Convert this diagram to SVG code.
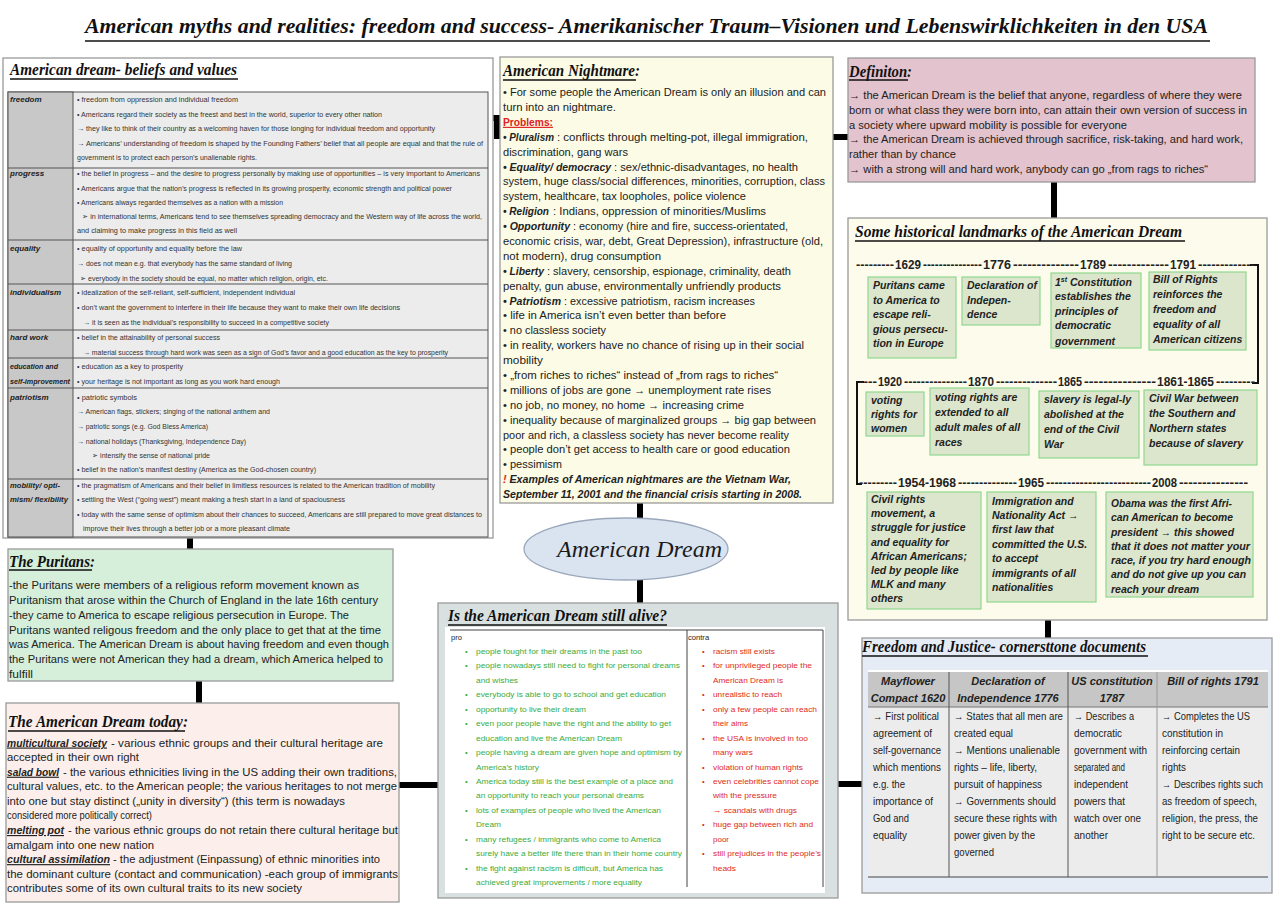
<svg xmlns="http://www.w3.org/2000/svg" width="1280" height="905" viewBox="0 0 1280 905">
<style>
.box{stroke:#9a9a9a;stroke-width:1.3}
.h{font-family:"Liberation Serif",serif;font-weight:bold;font-style:italic;font-size:17px;fill:#111}
.ul{stroke:#111;stroke-width:1.4}
.t{font-family:"Liberation Sans",Arial,sans-serif;font-size:11.5px;fill:#222}
.s{font-family:"Liberation Sans",Arial,sans-serif;font-size:8px;fill:#333}
.lab{font-family:"Liberation Sans",Arial,sans-serif;font-size:8px;font-weight:bold;font-style:italic;fill:#222}
.bi{font-weight:bold;font-style:italic}
.ev{font-family:"Liberation Sans",Arial,sans-serif;font-weight:bold;font-style:italic;font-size:10.5px;fill:#222}
.evb{fill:#dbe6cc;stroke:#8fd88f;stroke-width:1.2}
.yr{font-family:"Liberation Sans",Arial,sans-serif;font-weight:bold;font-size:12.5px;fill:#222}
.pc{font-family:"Liberation Sans",Arial,sans-serif;font-size:7.6px}
.pro{fill:#3aab3a}
.con{fill:#e02a20}
.tb{font-family:"Liberation Sans",Arial,sans-serif;font-size:11px;fill:#222}
.th{font-family:"Liberation Sans",Arial,sans-serif;font-size:11px;font-weight:bold;font-style:italic;fill:#222}
.gl{stroke:#555;stroke-width:1}
.conn{stroke:#000;stroke-width:6;fill:none}
</style>

<g id="title">
<text x="85" y="33" font-family="Liberation Serif, serif" font-weight="bold" font-style="italic" font-size="22" fill="#111" textLength="1123" lengthAdjust="spacingAndGlyphs">American myths and realities: freedom and success- Amerikanischer Traum–Visionen und Lebenswirklichkeiten in den USA</text>
<line x1="85" y1="41" x2="1210" y2="41" stroke="#111" stroke-width="1.6"/>
</g>

<g id="connectors">
<line class="conn" x1="190" y1="537" x2="190" y2="549"/>
<line class="conn" x1="199" y1="681" x2="199" y2="703"/>
<polyline class="conn" points="493,118 497,118 497,136 501,136"/>
<line class="conn" x1="833" y1="137" x2="848" y2="137"/>
<line class="conn" x1="640" y1="503" x2="640" y2="518"/>
<line class="conn" x1="640" y1="580" x2="640" y2="603"/>
<line class="conn" x1="1054" y1="182" x2="1054" y2="218"/>
<line class="conn" x1="1048" y1="620" x2="1048" y2="638"/>
<line class="conn" x1="399" y1="785" x2="438" y2="785"/>
<line class="conn" x1="838" y1="784" x2="862" y2="784"/>
</g>

<g id="beliefs">
<rect class="box" x="3" y="58" width="490" height="480" fill="#ffffff"/>
<text class="h" x="10" y="75" textLength="227" lengthAdjust="spacingAndGlyphs">American dream- beliefs and values</text>
<line class="ul" x1="10" y1="79" x2="238" y2="79"/>
<rect x="8" y="92" width="480" height="445" fill="#ececec" stroke="#555" stroke-width="1"/>
<rect x="8" y="92" width="65" height="445" fill="#c8c8c8" stroke="#555" stroke-width="1"/>
<line class="gl" x1="8" y1="168" x2="488" y2="168"/>
<line class="gl" x1="8" y1="240" x2="488" y2="240"/>
<line class="gl" x1="8" y1="284" x2="488" y2="284"/>
<line class="gl" x1="8" y1="330" x2="488" y2="330"/>
<line class="gl" x1="8" y1="358" x2="488" y2="358"/>
<line class="gl" x1="8" y1="388" x2="488" y2="388"/>
<line class="gl" x1="8" y1="479" x2="488" y2="479"/>
<text class="lab" x="10" y="102">freedom</text>
<text class="lab" x="10" y="176">progress</text>
<text class="lab" x="10" y="251">equality</text>
<text class="lab" x="10" y="295">individualism</text>
<text class="lab" x="10" y="340">hard work</text>
<text class="lab" x="10" y="369" textLength="48" lengthAdjust="spacingAndGlyphs">education and</text>
<text class="lab" x="10" y="384" textLength="60" lengthAdjust="spacingAndGlyphs">self-improvement</text>
<text class="lab" x="10" y="400">patriotism</text>
<text class="lab" x="10" y="488" textLength="50" lengthAdjust="spacingAndGlyphs">mobility/ opti-</text>
<text class="lab" x="10" y="502" textLength="58" lengthAdjust="spacingAndGlyphs">mism/ flexibility</text>
<text class="s" x="77" y="102" textLength="161" lengthAdjust="spacingAndGlyphs">• freedom from oppression and individual freedom</text>
<text class="s" x="77" y="116.5" textLength="305" lengthAdjust="spacingAndGlyphs">• Americans regard their society as the freest and best in the world, superior to every other nation</text>
<text class="s" x="77" y="131" textLength="358" lengthAdjust="spacingAndGlyphs">→ they like to think of their country as a welcoming haven for those longing for individual freedom and opportunity</text>
<text class="s" x="77" y="145.5" textLength="406" lengthAdjust="spacingAndGlyphs">→ Americans’ understanding of freedom is shaped by the Founding Fathers’ belief that all people are equal and that the rule of</text>
<text class="s" x="77" y="160" textLength="180" lengthAdjust="spacingAndGlyphs">government is to protect each person’s unalienable rights.</text>
<text class="s" x="77" y="176" textLength="403" lengthAdjust="spacingAndGlyphs">• the belief in progress – and the desire to progress personally by making use of opportunities – is very important to Americans</text>
<text class="s" x="77" y="191" textLength="375" lengthAdjust="spacingAndGlyphs">• Americans argue that the nation’s progress is reflected in its growing prosperity, economic strength and political power</text>
<text class="s" x="77" y="205" textLength="206" lengthAdjust="spacingAndGlyphs">• Americans always regarded themselves as a nation with a mission</text>
<text class="s" x="82" y="219" textLength="400" lengthAdjust="spacingAndGlyphs">➢ in international terms, Americans tend to see themselves spreading democracy and the Western way of life across the world,</text>
<text class="s" x="77" y="233" textLength="160" lengthAdjust="spacingAndGlyphs">and claiming to make progress in this field as well</text>
<text class="s" x="77" y="251" textLength="165" lengthAdjust="spacingAndGlyphs">• equality of opportunity and equality before the law</text>
<text class="s" x="77" y="266" textLength="215" lengthAdjust="spacingAndGlyphs">→ does not mean e.g. that everybody has the same standard of living</text>
<text class="s" x="80" y="281" textLength="248" lengthAdjust="spacingAndGlyphs">➢ everybody in the society should be equal, no matter which religion, origin, etc.</text>
<text class="s" x="77" y="295" textLength="218" lengthAdjust="spacingAndGlyphs">• idealization of the self-reliant, self-sufficient, independent individual</text>
<text class="s" x="77" y="310" textLength="323" lengthAdjust="spacingAndGlyphs">• don’t want the government to interfere in their life because they want to make their own life decisions</text>
<text class="s" x="83" y="325" textLength="246" lengthAdjust="spacingAndGlyphs">→ it is seen as the individual’s responsibility to succeed in a competitive society</text>
<text class="s" x="77" y="340" textLength="143" lengthAdjust="spacingAndGlyphs">• belief in the attainability of personal success</text>
<text class="s" x="83" y="355" textLength="365" lengthAdjust="spacingAndGlyphs">→ material success through hard work was seen as a sign of God’s favor and a good education as the key to prosperity</text>
<text class="s" x="77" y="369" textLength="106" lengthAdjust="spacingAndGlyphs">• education as a key to prosperity</text>
<text class="s" x="77" y="384" textLength="203" lengthAdjust="spacingAndGlyphs">• your heritage is not important as long as you work hard enough</text>
<text class="s" x="77" y="400" textLength="60" lengthAdjust="spacingAndGlyphs">• patriotic symbols</text>
<text class="s" x="77" y="414" textLength="193" lengthAdjust="spacingAndGlyphs">→ American flags, stickers; singing of the national anthem and</text>
<text class="s" x="77" y="429" textLength="131" lengthAdjust="spacingAndGlyphs">→ patriotic songs (e.g. God Bless America)</text>
<text class="s" x="77" y="444" textLength="169" lengthAdjust="spacingAndGlyphs">→ national holidays (Thanksgiving, Independence Day)</text>
<text class="s" x="92" y="458" textLength="118" lengthAdjust="spacingAndGlyphs">➢  intensify the sense of national pride</text>
<text class="s" x="77" y="472" textLength="239" lengthAdjust="spacingAndGlyphs">• belief in the nation’s manifest destiny (America as the God-chosen country)</text>
<text class="s" x="77" y="488" textLength="358" lengthAdjust="spacingAndGlyphs">• the pragmatism of Americans and their belief in limitless resources is related to the American tradition of mobility</text>
<text class="s" x="77" y="502" textLength="268" lengthAdjust="spacingAndGlyphs">• settling the West (“going west”) meant making a fresh start in a land of spaciousness</text>
<text class="s" x="77" y="517" textLength="405" lengthAdjust="spacingAndGlyphs">• today with the same sense of optimism about their chances to succeed, Americans are still prepared to move great distances to</text>
<text class="s" x="83" y="531" textLength="207" lengthAdjust="spacingAndGlyphs">improve their lives through a better job or a more pleasant climate</text>
</g>

<g id="puritans">
<rect class="box" x="8" y="549" width="385" height="132" fill="#d5efdb"/>
<text class="h" x="9" y="567" textLength="86" lengthAdjust="spacingAndGlyphs">The Puritans:</text>
<line class="ul" x1="9" y1="570" x2="92" y2="570"/>
<text class="t" x="9" y="589" textLength="350" lengthAdjust="spacingAndGlyphs">-the Puritans were members  of a religious reform movement known as</text>
<text class="t" x="9" y="603.8" textLength="369" lengthAdjust="spacingAndGlyphs">Puritanism that arose within the Church of England in the late 16th century</text>
<text class="t" x="9" y="618.7" textLength="340" lengthAdjust="spacingAndGlyphs">-they came to America to escape religious persecution in Europe. The</text>
<text class="t" x="9" y="633.5" textLength="372" lengthAdjust="spacingAndGlyphs">Puritans wanted religous freedom and the only place to get that at the time</text>
<text class="t" x="9" y="648.3" textLength="380" lengthAdjust="spacingAndGlyphs">was America. The American Dream is about having freedom and even though</text>
<text class="t" x="9" y="663.2" textLength="374" lengthAdjust="spacingAndGlyphs">the Puritans were not American they had a dream, which America helped to</text>
<text class="t" x="9" y="678" textLength="24" lengthAdjust="spacingAndGlyphs">fulfill</text>
</g>

<g id="today">
<rect class="box" x="6" y="703" width="393" height="199" fill="#fcefeb"/>
<text class="h" x="8" y="727" textLength="180" lengthAdjust="spacingAndGlyphs">The American Dream today:</text>
<line class="ul" x1="8" y1="731" x2="185" y2="731"/>
<text class="t bi" x="7" y="746.5" textLength="100" lengthAdjust="spacingAndGlyphs" text-decoration="underline">multicultural society</text>
<text class="t" x="111" y="746.5" textLength="272" lengthAdjust="spacingAndGlyphs">- various ethnic groups and their cultural heritage are</text>
<text class="t" x="7" y="761" textLength="132" lengthAdjust="spacingAndGlyphs">accepted in their own right</text>
<text class="t bi" x="7" y="775.7" textLength="52" lengthAdjust="spacingAndGlyphs" text-decoration="underline">salad bowl</text>
<text class="t" x="63" y="775.7" textLength="334" lengthAdjust="spacingAndGlyphs">- the various ethnicities living in the US adding their own traditions,</text>
<text class="t" x="7" y="790.2" textLength="390" lengthAdjust="spacingAndGlyphs">cultural values, etc. to the American people; the various heritages to not merge</text>
<text class="t" x="7" y="804.8" textLength="338" lengthAdjust="spacingAndGlyphs">into one but stay distinct („unity in diversity“) (this term is nowadays</text>
<text class="t" x="7" y="819.4" textLength="145" lengthAdjust="spacingAndGlyphs">considered more politically correct)</text>
<text class="t bi" x="7" y="834" textLength="57" lengthAdjust="spacingAndGlyphs" text-decoration="underline">melting pot</text>
<text class="t" x="68" y="834" textLength="330" lengthAdjust="spacingAndGlyphs">- the various ethnic groups do not retain there cultural heritage but</text>
<text class="t" x="7" y="848.6" textLength="147" lengthAdjust="spacingAndGlyphs">amalgam into one new nation</text>
<text class="t bi" x="7" y="863.1" textLength="103" lengthAdjust="spacingAndGlyphs" text-decoration="underline">cultural assimilation </text>
<text class="t" x="113" y="863.1" textLength="267" lengthAdjust="spacingAndGlyphs">- the adjustment (Einpassung) of ethnic minorities into</text>
<text class="t" x="7" y="877.7" textLength="391" lengthAdjust="spacingAndGlyphs">the dominant culture (contact and communication) -each group of immigrants</text>
<text class="t" x="7" y="892.3" textLength="295" lengthAdjust="spacingAndGlyphs">contributes some of its own cultural traits to its new society</text>
</g>

<g id="nightmare">
<rect class="box" x="500" y="57" width="333" height="446" fill="#fbfbe6"/>
<text class="h" x="503" y="76" textLength="137" lengthAdjust="spacingAndGlyphs">American Nightmare:</text>
<line class="ul" x1="503" y1="80" x2="636" y2="80"/>
<text class="t" x="503" y="96" textLength="323" lengthAdjust="spacingAndGlyphs">• For some people the American Dream is only an illusion and can</text>
<text class="t" x="503" y="110.9" textLength="113" lengthAdjust="spacingAndGlyphs">turn into an nightmare.</text>
<text class="t" x="503" y="125.8" textLength="50" lengthAdjust="spacingAndGlyphs" font-weight="bold" style="fill:#e02020" text-decoration="underline">Problems:</text>
<text class="t bi" x="503" y="140.7" font-size="9.6" textLength="51" lengthAdjust="spacingAndGlyphs">• Pluralism</text>
<text class="t" x="557" y="140.7" textLength="251" lengthAdjust="spacingAndGlyphs">: conflicts through melting-pot, illegal immigration,</text>
<text class="t" x="503" y="155.6" textLength="125" lengthAdjust="spacingAndGlyphs">discrimination, gang wars</text>
<text class="t bi" x="503" y="170.5" textLength="108" lengthAdjust="spacingAndGlyphs">• Equality/ democracy</text>
<text class="t" x="614" y="170.5" textLength="184" lengthAdjust="spacingAndGlyphs">: sex/ethnic-disadvantages, no health</text>
<text class="t" x="503" y="185.3" textLength="322" lengthAdjust="spacingAndGlyphs">system, huge class/social differences, minorities, corruption, class</text>
<text class="t" x="503" y="200.2" textLength="243" lengthAdjust="spacingAndGlyphs">system, healthcare, tax loopholes, police violence</text>
<text class="t bi" x="503" y="215.1" font-size="9.8" textLength="46" lengthAdjust="spacingAndGlyphs">• Religion</text>
<text class="t" x="553" y="215.1" textLength="213" lengthAdjust="spacingAndGlyphs">: Indians, oppression of minorities/Muslims</text>
<text class="t bi" x="503" y="230" textLength="67" lengthAdjust="spacingAndGlyphs">• Opportunity</text>
<text class="t" x="573" y="230" textLength="215" lengthAdjust="spacingAndGlyphs">: economy (hire and fire, success-orientated,</text>
<text class="t" x="503" y="244.9" textLength="320" lengthAdjust="spacingAndGlyphs">economic crisis, war, debt, Great Depression), infrastructure (old,</text>
<text class="t" x="503" y="259.8" textLength="158" lengthAdjust="spacingAndGlyphs">not modern), drug consumption</text>
<text class="t bi" x="503" y="274.7" textLength="41" lengthAdjust="spacingAndGlyphs">• Liberty</text>
<text class="t" x="547" y="274.7" textLength="244" lengthAdjust="spacingAndGlyphs">: slavery, censorship, espionage, criminality, death</text>
<text class="t" x="503" y="289.6" textLength="278" lengthAdjust="spacingAndGlyphs">penalty, gun abuse, environmentally unfriendly products</text>
<text class="t bi" x="503" y="304.5" textLength="58" lengthAdjust="spacingAndGlyphs">• Patriotism</text>
<text class="t" x="564" y="304.5" textLength="191" lengthAdjust="spacingAndGlyphs">: excessive patriotism, racism increases</text>
<text class="t" x="503" y="319.4" textLength="223" lengthAdjust="spacingAndGlyphs">• life in America isn’t even better than before</text>
<text class="t" x="503" y="334.2" textLength="103" lengthAdjust="spacingAndGlyphs">• no classless society</text>
<text class="t" x="503" y="349.1" textLength="301" lengthAdjust="spacingAndGlyphs">• in reality, workers have no chance of rising up in their social</text>
<text class="t" x="503" y="364" textLength="40" lengthAdjust="spacingAndGlyphs">mobility</text>
<text class="t" x="503" y="378.9" textLength="275" lengthAdjust="spacingAndGlyphs">• „from riches to riches“ instead of „from rags to riches“</text>
<text class="t" x="503" y="393.8" textLength="268" lengthAdjust="spacingAndGlyphs">• millions of jobs are gone → unemployment rate rises</text>
<text class="t" x="503" y="408.7" textLength="241" lengthAdjust="spacingAndGlyphs">• no job, no money, no home → increasing crime</text>
<text class="t" x="503" y="423.6" textLength="313" lengthAdjust="spacingAndGlyphs">• inequality because of marginalized groups → big gap between</text>
<text class="t" x="503" y="438.5" textLength="286" lengthAdjust="spacingAndGlyphs">poor and rich, a classless society has never become reality</text>
<text class="t" x="503" y="453.4" textLength="287" lengthAdjust="spacingAndGlyphs">• people don’t get access to health care or good education</text>
<text class="t" x="503" y="468.3" textLength="59" lengthAdjust="spacingAndGlyphs">• pessimism</text>
<text class="t bi" x="503" y="483.1" textLength="288" lengthAdjust="spacingAndGlyphs"><tspan style="fill:#e02020">!</tspan> Examples of American nightmares are the Vietnam War,</text>
<text class="t bi" x="503" y="498" textLength="299" lengthAdjust="spacingAndGlyphs">September 11, 2001 and the financial crisis starting in 2008.</text>
</g>

<g id="definition">
<rect class="box" x="848" y="58" width="407" height="124" fill="#e3c3cd"/>
<text class="h" x="849" y="77" textLength="63" lengthAdjust="spacingAndGlyphs">Definiton:</text>
<line class="ul" x1="849" y1="80" x2="908" y2="80"/>
<text class="t" x="849" y="99" textLength="393" lengthAdjust="spacingAndGlyphs">→ the American Dream is the belief that anyone, regardless of where they were</text>
<text class="t" x="849" y="113.8" textLength="398" lengthAdjust="spacingAndGlyphs">born or what class they were born into, can attain their own version of success in</text>
<text class="t" x="849" y="128.6" textLength="278" lengthAdjust="spacingAndGlyphs">a society where upward mobility is possible for everyone</text>
<text class="t" x="849" y="143.4" textLength="394" lengthAdjust="spacingAndGlyphs">→ the American Dream is achieved through sacrifice, risk-taking, and hard work,</text>
<text class="t" x="849" y="158.2" textLength="107" lengthAdjust="spacingAndGlyphs">rather than by chance</text>
<text class="t" x="849" y="173" textLength="359" lengthAdjust="spacingAndGlyphs">→ with a strong will and hard work, anybody can go „from rags to riches“</text>
</g>

<g id="landmarks">
<rect class="box" x="848" y="218" width="419" height="402" fill="#fdfbeb"/>
<text class="h" x="855" y="237" textLength="327" lengthAdjust="spacingAndGlyphs">Some historical landmarks of the American Dream</text>
<line class="ul" x1="855" y1="241" x2="1185" y2="241"/>
<polyline points="1250,265 1258,265 1258,383 1252,383" fill="none" stroke="#111" stroke-width="2"/>
<polyline points="864,382 857,382 857,484 862,484" fill="none" stroke="#111" stroke-width="2"/>
<g class="yr">
<text x="856" y="269" textLength="38" lengthAdjust="spacingAndGlyphs">---------</text>
<text x="895" y="269" textLength="26" lengthAdjust="spacingAndGlyphs">1629</text>
<text x="923" y="269" textLength="59" lengthAdjust="spacingAndGlyphs">---------------</text>
<text x="983" y="269" textLength="28" lengthAdjust="spacingAndGlyphs">1776</text>
<text x="1013" y="269" textLength="66" lengthAdjust="spacingAndGlyphs">--------------</text>
<text x="1080" y="269" textLength="26" lengthAdjust="spacingAndGlyphs">1789</text>
<text x="1108" y="269" textLength="61" lengthAdjust="spacingAndGlyphs">-------------</text>
<text x="1170" y="269" textLength="26" lengthAdjust="spacingAndGlyphs">1791</text>
<text x="1198" y="269" textLength="57" lengthAdjust="spacingAndGlyphs">-------------</text>
<text x="859" y="386" textLength="18" lengthAdjust="spacingAndGlyphs">----</text>
<text x="878" y="386" textLength="24" lengthAdjust="spacingAndGlyphs">1920</text>
<text x="904" y="386" textLength="63" lengthAdjust="spacingAndGlyphs">---------------</text>
<text x="968" y="386" textLength="26" lengthAdjust="spacingAndGlyphs">1870</text>
<text x="996" y="386" textLength="61" lengthAdjust="spacingAndGlyphs">--------------</text>
<text x="1058" y="386" textLength="24" lengthAdjust="spacingAndGlyphs">1865</text>
<text x="1084" y="386" textLength="72" lengthAdjust="spacingAndGlyphs">---------------</text>
<text x="1157" y="386" textLength="57" lengthAdjust="spacingAndGlyphs">1861-1865</text>
<text x="1216" y="386" textLength="39" lengthAdjust="spacingAndGlyphs">---------</text>
<text x="859" y="487" textLength="38" lengthAdjust="spacingAndGlyphs">---------</text>
<text x="898" y="487" textLength="58" lengthAdjust="spacingAndGlyphs">1954-1968</text>
<text x="958" y="487" textLength="59" lengthAdjust="spacingAndGlyphs">--------------</text>
<text x="1018" y="487" textLength="26" lengthAdjust="spacingAndGlyphs">1965</text>
<text x="1046" y="487" textLength="105" lengthAdjust="spacingAndGlyphs">-------------------------</text>
<text x="1152" y="487" textLength="25" lengthAdjust="spacingAndGlyphs">2008</text>
<text x="1179" y="487" textLength="69" lengthAdjust="spacingAndGlyphs">---------------</text>
</g>
<g id="ev1629"><rect class="evb" x="868" y="277" width="88" height="81"/>
<text class="ev" x="873" y="289">Puritans came</text><text class="ev" x="873" y="304">to America to</text><text class="ev" x="873" y="318">escape reli-</text><text class="ev" x="873" y="333">gious persecu-</text><text class="ev" x="873" y="347">tion in Europe</text></g>
<g id="ev1776"><rect class="evb" x="962" y="277" width="78" height="48"/>
<text class="ev" x="967" y="289">Declaration of</text><text class="ev" x="967" y="304">Indepen-</text><text class="ev" x="967" y="318">dence</text></g>
<g id="ev1789"><rect class="evb" x="1051" y="273" width="90" height="75"/>
<text class="ev" x="1055" y="286">1<tspan font-size="7" dy="-4">st</tspan><tspan dy="4"> Constitution</tspan></text><text class="ev" x="1055" y="300">establishes the</text><text class="ev" x="1055" y="315">principles of</text><text class="ev" x="1055" y="329">democratic</text><text class="ev" x="1055" y="345">government</text></g>
<g id="ev1791"><rect class="evb" x="1149" y="272" width="97" height="78"/>
<text class="ev" x="1153" y="283">Bill of Rights</text><text class="ev" x="1153" y="298">reinforces the</text><text class="ev" x="1153" y="313">freedom and</text><text class="ev" x="1153" y="328">equality of all</text><text class="ev" x="1153" y="343">American citizens</text></g>
<g id="ev1920"><rect class="evb" x="866" y="392" width="58" height="44"/>
<text class="ev" x="871" y="404">voting</text><text class="ev" x="871" y="418">rights for</text><text class="ev" x="871" y="432">women</text></g>
<g id="ev1870"><rect class="evb" x="930" y="388" width="99" height="67"/>
<text class="ev" x="935" y="401">voting rights are</text><text class="ev" x="935" y="416">extended to all</text><text class="ev" x="935" y="431">adult males of all</text><text class="ev" x="935" y="446">races</text></g>
<g id="ev1865"><rect class="evb" x="1039" y="391" width="100" height="67"/>
<text class="ev" x="1044" y="403">slavery is legal-ly</text><text class="ev" x="1044" y="418">abolished at the</text><text class="ev" x="1044" y="433">end of the Civil</text><text class="ev" x="1044" y="448">War</text></g>
<g id="ev1861"><rect class="evb" x="1144" y="390" width="113" height="75"/>
<text class="ev" x="1149" y="402">Civil War between</text><text class="ev" x="1149" y="417">the Southern and</text><text class="ev" x="1149" y="432">Northern states</text><text class="ev" x="1149" y="447">because of slavery</text></g>
<g id="ev1954"><rect class="evb" x="867" y="492" width="114" height="117"/>
<text class="ev" x="871" y="503">Civil rights</text><text class="ev" x="871" y="517">movement, a</text><text class="ev" x="871" y="531">struggle for justice</text><text class="ev" x="871" y="546">and equality for</text><text class="ev" x="871" y="560">African Americans;</text><text class="ev" x="871" y="574">led by people like</text><text class="ev" x="871" y="588">MLK and many</text><text class="ev" x="871" y="602">others</text></g>
<g id="ev1965"><rect class="evb" x="987" y="492" width="109" height="110"/>
<text class="ev" x="992" y="505">Immigration and</text><text class="ev" x="992" y="519">Nationality Act →</text><text class="ev" x="992" y="533">first law that</text><text class="ev" x="992" y="548">committed the U.S.</text><text class="ev" x="992" y="562">to accept</text><text class="ev" x="992" y="577">immigrants of all</text><text class="ev" x="992" y="591">nationalities</text></g>
<g id="ev2008"><rect class="evb" x="1106" y="492" width="147" height="105"/>
<text class="ev" x="1111" y="507" textLength="121" lengthAdjust="spacingAndGlyphs">Obama was the first Afri-</text><text class="ev" x="1111" y="521" textLength="122" lengthAdjust="spacingAndGlyphs">can American to become</text><text class="ev" x="1111" y="536" textLength="123" lengthAdjust="spacingAndGlyphs">president → this showed</text><text class="ev" x="1111" y="550" textLength="139" lengthAdjust="spacingAndGlyphs">that it does not matter your</text><text class="ev" x="1111" y="564" textLength="140" lengthAdjust="spacingAndGlyphs">race, if you try hard enough</text><text class="ev" x="1111" y="578" textLength="135" lengthAdjust="spacingAndGlyphs">and do not give up you can</text><text class="ev" x="1111" y="593">reach your dream</text></g>
</g>

<g id="american-dream">
<ellipse cx="626" cy="549" rx="102" ry="31" fill="#dae4f0" stroke="#9aa8bc" stroke-width="1.3"/>
<text x="557" y="557" font-family="Liberation Serif, serif" font-style="italic" font-size="24" fill="#1a1a1a" textLength="165" lengthAdjust="spacingAndGlyphs">American Dream</text>
</g>

<g id="still-alive">
<rect class="box" x="438" y="603" width="400" height="295" fill="#d8e1e0"/>
<text class="h" x="448" y="621" textLength="219" lengthAdjust="spacingAndGlyphs">Is the American Dream still alive?</text>
<line class="ul" x1="448" y1="625" x2="667" y2="625"/>
<rect x="445" y="627" width="380" height="266" fill="#ffffff"/>
<line x1="450" y1="630" x2="823" y2="630" stroke="#444" stroke-width="1"/>
<line x1="687" y1="630" x2="687" y2="887" stroke="#444" stroke-width="1"/>
<line x1="823" y1="630" x2="823" y2="887" stroke="#444" stroke-width="1"/>
<text class="pc" x="451" y="640" fill="#222">pro</text>
<text class="pc" x="688" y="640" fill="#222">contra</text>
<g class="pc pro">
<text x="465" y="654">•</text><text x="476" y="654" textLength="166" lengthAdjust="spacingAndGlyphs">people fought for their dreams in the past too</text>
<text x="465" y="668.4">•</text><text x="476" y="668.4" textLength="204" lengthAdjust="spacingAndGlyphs">people nowadays still need to fight for personal dreams</text>
<text x="476" y="682.9" textLength="42" lengthAdjust="spacingAndGlyphs">and wishes</text>
<text x="465" y="697.3">•</text><text x="476" y="697.3" textLength="190" lengthAdjust="spacingAndGlyphs">everybody is able to go to school and get education</text>
<text x="465" y="711.8">•</text><text x="476" y="711.8" textLength="110" lengthAdjust="spacingAndGlyphs">opportunity to live their dream</text>
<text x="465" y="726.2">•</text><text x="476" y="726.2" textLength="195" lengthAdjust="spacingAndGlyphs">even poor people have the right and the ability to get</text>
<text x="476" y="740.6" textLength="146" lengthAdjust="spacingAndGlyphs">education and live the American Dream</text>
<text x="465" y="755.1">•</text><text x="476" y="755.1" textLength="206" lengthAdjust="spacingAndGlyphs">people having a dream are given hope and optimism by</text>
<text x="476" y="769.5" textLength="63" lengthAdjust="spacingAndGlyphs">America’s history</text>
<text x="465" y="784">•</text><text x="476" y="784" textLength="197" lengthAdjust="spacingAndGlyphs">America today still is the best example of a place and</text>
<text x="476" y="798.4" textLength="168" lengthAdjust="spacingAndGlyphs">an opportunity to reach your personal dreams</text>
<text x="465" y="812.8">•</text><text x="476" y="812.8" textLength="185" lengthAdjust="spacingAndGlyphs">lots of examples of people who lived the American</text>
<text x="476" y="827.3" textLength="25" lengthAdjust="spacingAndGlyphs">Dream</text>
<text x="465" y="841.7">•</text><text x="476" y="841.7" textLength="185" lengthAdjust="spacingAndGlyphs">many refugees / immigrants who come to America</text>
<text x="476" y="856.2" textLength="206" lengthAdjust="spacingAndGlyphs">surely have a better life there than in their home country</text>
<text x="465" y="870.6">•</text><text x="476" y="870.6" textLength="187" lengthAdjust="spacingAndGlyphs">the fight against racism is difficult, but America has</text>
<text x="476" y="885" textLength="166" lengthAdjust="spacingAndGlyphs">achieved great improvements / more equality</text>
</g>
<g class="pc con">
<text x="702" y="654">•</text><text x="713" y="654" textLength="62" lengthAdjust="spacingAndGlyphs">racism still exists</text>
<text x="702" y="668.4">•</text><text x="713" y="668.4" textLength="99" lengthAdjust="spacingAndGlyphs">for unprivileged people the</text>
<text x="713" y="682.9" textLength="70" lengthAdjust="spacingAndGlyphs">American Dream is</text>
<text x="702" y="697.3">•</text><text x="713" y="697.3" textLength="69" lengthAdjust="spacingAndGlyphs">unrealistic to reach</text>
<text x="702" y="711.8">•</text><text x="713" y="711.8" textLength="104" lengthAdjust="spacingAndGlyphs">only a few people can reach</text>
<text x="713" y="726.2" textLength="35" lengthAdjust="spacingAndGlyphs">their aims</text>
<text x="702" y="740.6">•</text><text x="713" y="740.6" textLength="95" lengthAdjust="spacingAndGlyphs">the USA is involved in too</text>
<text x="713" y="755.1" textLength="40" lengthAdjust="spacingAndGlyphs">many wars</text>
<text x="702" y="769.5">•</text><text x="713" y="769.5" textLength="90" lengthAdjust="spacingAndGlyphs">violation of human rights</text>
<text x="702" y="784">•</text><text x="713" y="784" textLength="106" lengthAdjust="spacingAndGlyphs">even celebrities cannot cope</text>
<text x="713" y="798.4" textLength="64" lengthAdjust="spacingAndGlyphs">with the pressure</text>
<text x="713" y="812.8" textLength="84" lengthAdjust="spacingAndGlyphs">→ scandals with drugs</text>
<text x="702" y="827.3">•</text><text x="713" y="827.3" textLength="100" lengthAdjust="spacingAndGlyphs">huge gap between rich and</text>
<text x="713" y="841.7" textLength="16" lengthAdjust="spacingAndGlyphs">poor</text>
<text x="702" y="856.2">•</text><text x="713" y="856.2" textLength="108" lengthAdjust="spacingAndGlyphs">still prejudices in the people’s</text>
<text x="713" y="870.6" textLength="23" lengthAdjust="spacingAndGlyphs">heads</text>
</g>
</g>

<g id="documents">
<rect class="box" x="862" y="638" width="410" height="255" fill="#e5ecf5"/>
<text class="h" x="862" y="652" textLength="284" lengthAdjust="spacingAndGlyphs">Freedom and Justice- cornersttone documents</text>
<line class="ul" x1="862" y1="656" x2="1148" y2="656"/>
<rect x="868" y="670" width="400" height="2" fill="#ffffff"/>
<rect x="868" y="672" width="400" height="35" fill="#c6c6c6"/>
<rect x="868" y="707" width="400" height="170" fill="#ececec"/>
<line x1="868" y1="707" x2="1268" y2="707" stroke="#777" stroke-width="1"/>
<line x1="868" y1="877" x2="1268" y2="877" stroke="#444" stroke-width="1"/>
<line x1="949" y1="672" x2="949" y2="877" stroke="#555" stroke-width="1"/>
<line x1="1068" y1="672" x2="1068" y2="877" stroke="#555" stroke-width="1"/>
<line x1="1157" y1="672" x2="1157" y2="877" stroke="#999" stroke-width="1"/>
<g class="th" text-anchor="middle">
<text x="908" y="685">Mayflower</text><text x="908" y="702">Compact 1620</text>
<text x="1008" y="685">Declaration of</text><text x="1008" y="702">Independence 1776</text>
<text x="1112" y="685">US constitution</text><text x="1112" y="702">1787</text>
<text x="1213" y="685">Bill of rights 1791</text>
</g>
<g class="tb">
<text x="873" y="720" textLength="66" lengthAdjust="spacingAndGlyphs">→ First political</text>
<text x="873" y="737" textLength="59" lengthAdjust="spacingAndGlyphs">agreement of</text>
<text x="873" y="754" textLength="68" lengthAdjust="spacingAndGlyphs">self-governance</text>
<text x="873" y="771" textLength="68" lengthAdjust="spacingAndGlyphs">which mentions</text>
<text x="873" y="788" textLength="32" lengthAdjust="spacingAndGlyphs">e.g. the</text>
<text x="873" y="805" textLength="60" lengthAdjust="spacingAndGlyphs">importance of</text>
<text x="873" y="822" textLength="36" lengthAdjust="spacingAndGlyphs">God and</text>
<text x="873" y="839" textLength="34" lengthAdjust="spacingAndGlyphs">equality</text>
<text x="954" y="720" textLength="109" lengthAdjust="spacingAndGlyphs">→ States that all men are</text>
<text x="954" y="737" textLength="59" lengthAdjust="spacingAndGlyphs">created equal</text>
<text x="954" y="754" textLength="106" lengthAdjust="spacingAndGlyphs">→ Mentions unalienable</text>
<text x="954" y="771" textLength="83" lengthAdjust="spacingAndGlyphs">rights – life, liberty,</text>
<text x="954" y="788" textLength="88" lengthAdjust="spacingAndGlyphs">pursuit of happiness</text>
<text x="954" y="805" textLength="102" lengthAdjust="spacingAndGlyphs">→ Governments should</text>
<text x="954" y="822" textLength="103" lengthAdjust="spacingAndGlyphs">secure these rights with</text>
<text x="954" y="839" textLength="81" lengthAdjust="spacingAndGlyphs">power given by the</text>
<text x="954" y="856" textLength="40" lengthAdjust="spacingAndGlyphs">governed</text>
<text x="1074" y="720" textLength="60" lengthAdjust="spacingAndGlyphs">→ Describes a</text>
<text x="1074" y="737" textLength="48" lengthAdjust="spacingAndGlyphs">democratic</text>
<text x="1074" y="754" textLength="73" lengthAdjust="spacingAndGlyphs">government with</text>
<text x="1074" y="771" textLength="51" lengthAdjust="spacingAndGlyphs">separated and</text>
<text x="1074" y="788" textLength="54" lengthAdjust="spacingAndGlyphs">independent</text>
<text x="1074" y="805" textLength="51" lengthAdjust="spacingAndGlyphs">powers that</text>
<text x="1074" y="822" textLength="67" lengthAdjust="spacingAndGlyphs">watch over one</text>
<text x="1074" y="839" textLength="34" lengthAdjust="spacingAndGlyphs">another</text>
<text x="1162" y="720" textLength="88" lengthAdjust="spacingAndGlyphs">→ Completes the US</text>
<text x="1162" y="737" textLength="61" lengthAdjust="spacingAndGlyphs">constitution in</text>
<text x="1162" y="754" textLength="78" lengthAdjust="spacingAndGlyphs">reinforcing certain</text>
<text x="1162" y="771" textLength="24" lengthAdjust="spacingAndGlyphs">rights</text>
<text x="1162" y="788" textLength="101" lengthAdjust="spacingAndGlyphs">→ Describes rights such</text>
<text x="1162" y="805" textLength="95" lengthAdjust="spacingAndGlyphs">as freedom of speech,</text>
<text x="1162" y="822" textLength="96" lengthAdjust="spacingAndGlyphs">religion, the press, the</text>
<text x="1162" y="839" textLength="93" lengthAdjust="spacingAndGlyphs">right to be secure etc.</text>
</g>
</g>
</svg>
